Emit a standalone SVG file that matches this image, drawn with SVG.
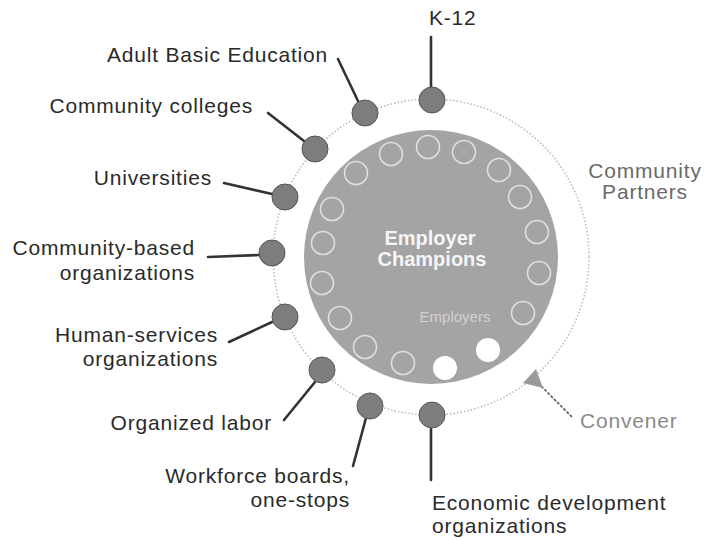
<svg xmlns="http://www.w3.org/2000/svg" width="711" height="540" viewBox="0 0 711 540">
<style>
.lbl{font-family:"Liberation Sans",Arial,sans-serif;font-size:21px;fill:#2a2a2a;letter-spacing:0.8px}
.r{text-anchor:end}
.gray{fill:#6a6a6a}
.lgray{fill:#8a8a8a}
.ctr{font-family:"Liberation Sans",Arial,sans-serif;font-size:20px;font-weight:bold;fill:#fff;fill-opacity:0.92;text-anchor:middle}
.node{fill:#7d7d7d;stroke:#555;stroke-width:1}
.emp{fill:none;stroke:#fff;stroke-width:1.6;stroke-opacity:0.65}
.open{fill:#fff}
.con{stroke:#333;stroke-width:2.6;fill:none;stroke-linecap:round}
</style>
<rect width="711" height="540" fill="#fff"/>

<!-- outer dotted ring (community partners) -->
<circle cx="431" cy="257" r="158" fill="none" stroke="#b8b8b8" stroke-width="1.5" stroke-dasharray="1.5 2"/>

<!-- central employer disk -->
<g id="employer-champions">
  <circle cx="431" cy="257" r="127" fill="#a4a4a4"/>
  <g transform="translate(431 257)">
    <circle class="emp" r="11.5" cx="-108" cy="-14"/>
    <circle class="emp" r="11.5" cx="-99" cy="-48"/>
    <circle class="emp" r="11.5" cx="-75" cy="-84"/>
    <circle class="emp" r="11.5" cx="-40" cy="-103"/>
    <circle class="emp" r="11.5" cx="-3" cy="-110"/>
    <circle class="emp" r="11.5" cx="33" cy="-105"/>
    <circle class="emp" r="11.5" cx="68" cy="-87"/>
    <circle class="emp" r="11.5" cx="89" cy="-60"/>
    <circle class="emp" r="11.5" cx="106" cy="-25"/>
    <circle class="emp" r="11.5" cx="108" cy="16"/>
    <circle class="emp" r="11.5" cx="92" cy="56"/>
    <circle class="open" r="12" cx="57" cy="93"/>
    <circle class="open" r="12" cx="14" cy="111"/>
    <circle class="emp" r="11.5" cx="-28" cy="106"/>
    <circle class="emp" r="11.5" cx="-66" cy="90"/>
    <circle class="emp" r="11.5" cx="-91" cy="61"/>
    <circle class="emp" r="11.5" cx="-109" cy="26"/>
  </g>
  <text class="ctr" x="430" y="245">Employer</text>
  <text class="ctr" x="432" y="266">Champions</text>
  <text x="455" y="322" font-family="Liberation Sans,Arial,sans-serif" font-size="15" fill="#fff" fill-opacity="0.5" text-anchor="middle">Employers</text>
</g>

<!-- connectors -->
<g id="connectors">
  <line class="con" x1="431" y1="37" x2="431" y2="87"/>
  <line class="con" x1="338" y1="59" x2="358" y2="101"/>
  <line class="con" x1="268" y1="113" x2="304" y2="141"/>
  <line class="con" x1="224" y1="183" x2="272" y2="194"/>
  <line class="con" x1="208" y1="257" x2="259" y2="255"/>
  <line class="con" x1="229" y1="342" x2="272" y2="322"/>
  <line class="con" x1="284" y1="420" x2="315" y2="382"/>
  <line class="con" x1="353" y1="466" x2="366" y2="418"/>
  <line class="con" x1="431" y1="429" x2="431" y2="480"/>
  <line x1="538" y1="383" x2="573" y2="418" stroke="#666" stroke-width="1.8" stroke-dasharray="3 1.5"/>
  <polygon points="536,369 523,383 543,388" fill="#9a9a9a"/>
</g>

<!-- partner nodes -->
<g id="k12"><circle class="node" cx="432" cy="100" r="13"/><text class="lbl" x="429" y="25">K-12</text></g>
<g id="adult-basic-education"><circle class="node" cx="365" cy="113" r="13"/><text class="lbl r" x="328" y="62">Adult Basic Education</text></g>
<g id="community-colleges"><circle class="node" cx="315" cy="149" r="13"/><text class="lbl r" x="253" y="113">Community colleges</text></g>
<g id="universities"><circle class="node" cx="285" cy="197" r="13"/><text class="lbl r" x="212" y="185">Universities</text></g>
<g id="community-based"><circle class="node" cx="272" cy="253" r="13"/><text class="lbl r" x="195" y="255">Community-based</text><text class="lbl r" x="195" y="280">organizations</text></g>
<g id="human-services"><circle class="node" cx="285" cy="317" r="13"/><text class="lbl r" x="218" y="342">Human-services</text><text class="lbl r" x="218" y="366">organizations</text></g>
<g id="organized-labor"><circle class="node" cx="322" cy="370" r="13"/><text class="lbl r" x="272" y="430">Organized labor</text></g>
<g id="workforce-boards"><circle class="node" cx="370" cy="406" r="13"/><text class="lbl r" x="350" y="483">Workforce boards,</text><text class="lbl r" x="350" y="507">one-stops</text></g>
<g id="economic-development"><circle class="node" cx="432" cy="415" r="13"/><text class="lbl" x="432" y="510">Economic development</text><text class="lbl" x="432" y="533">organizations</text></g>

<g id="community-partners-label"><text class="lbl gray" x="645" y="178" text-anchor="middle">Community</text><text class="lbl gray" x="645" y="199" text-anchor="middle">Partners</text></g>
<g id="convener"><text class="lbl lgray" x="580" y="428">Convener</text></g>
</svg>
